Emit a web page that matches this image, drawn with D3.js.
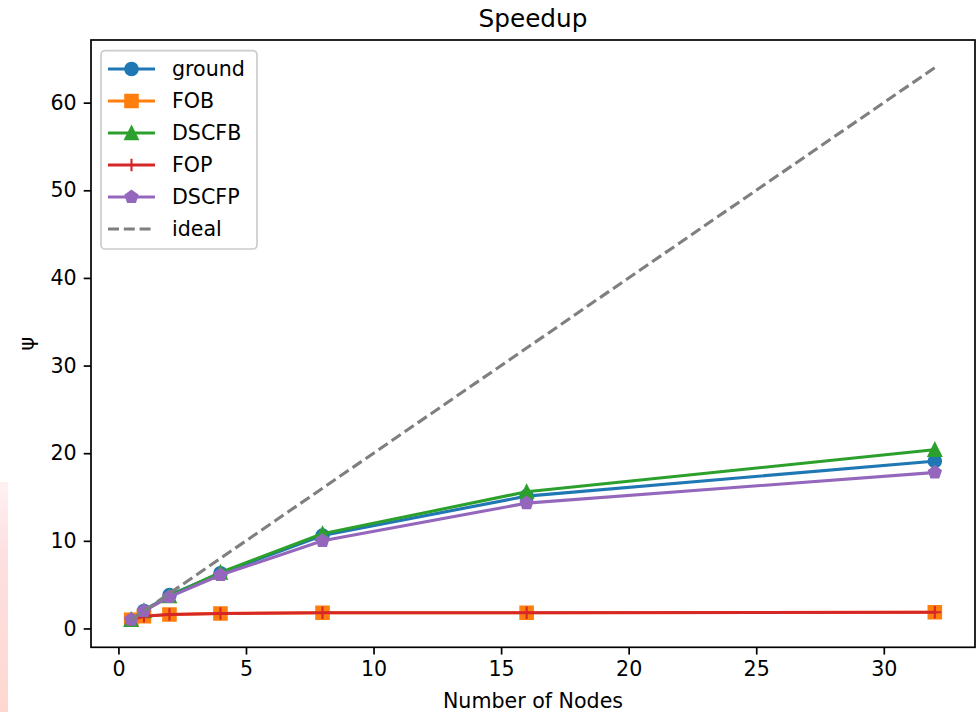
<!DOCTYPE html>
<html>
<head>
<meta charset="utf-8">
<script src="https://cdn.jsdelivr.net/npm/d3@7"></script>
<style>
  body { margin: 0; background: #fff; }
  text { font-family: "DejaVu Sans", sans-serif; fill: #000; }
</style>
</head>
<body>
<div id="chart"></div>
<script>
const nodes = [0.5, 1, 2, 4, 8, 16, 32];
const ground = [1.0, 2.0, 3.8, 6.3, 10.6, 15.1, 19.1];
const fob = [1.0, 1.4, 1.6, 1.7, 1.8, 1.8, 1.85];
const dscfb = [1.0, 2.0, 3.7, 6.4, 10.8, 15.6, 20.4];
const fop = [1.0, 1.4, 1.6, 1.7, 1.8, 1.8, 1.85];
const dscfp = [1.0, 2.0, 3.6, 6.1, 10.0, 14.3, 17.8];
const ideal = [1, 2, 4, 8, 16, 32, 64];
const xTicks = [0, 5, 10, 15, 20, 25, 30];
const yTicks = [0, 10, 20, 30, 40, 50, 60];

const series = [
  { name: 'ground', values: ground, color: '#1f77b4', marker: 'circle' },
  { name: 'FOB', values: fob, color: '#ff7f0e', marker: 'square' },
  { name: 'DSCFB', values: dscfb, color: '#2ca02c', marker: 'triangle' },
  { name: 'FOP', values: fop, color: '#d62728', marker: 'plus' },
  { name: 'DSCFP', values: dscfp, color: '#9467bd', marker: 'pentagon' },
  { name: 'ideal', values: ideal, color: '#7f7f7f', marker: null, dash: '11,4.8' }
];

const W = 979, H = 712;
const m = { left: 91, right: 975, top: 40, bottom: 647.3 };
const fs = 20.6;
const lw = 3.1;
const ms = 12.5;

const svg = d3.select('#chart').append('svg').attr('width', W).attr('height', H);

// faint pink strip at the left edge of the screenshot
const grad = svg.append('defs').append('linearGradient')
  .attr('id', 'pink').attr('x1', 0).attr('y1', 0).attr('x2', 0).attr('y2', 1);
grad.append('stop').attr('offset', 0).attr('stop-color', '#fff1f2');
grad.append('stop').attr('offset', 0.3).attr('stop-color', '#fde0e2');
grad.append('stop').attr('offset', 1).attr('stop-color', '#fdd8d0');
svg.append('rect').attr('x', 0).attr('y', 482).attr('width', 8).attr('height', H - 482)
  .attr('fill', 'url(#pink)');

const x = d3.scaleLinear().domain([-1.075, 33.575]).range([m.left, m.right]);
const y = d3.scaleLinear().domain([-2.15, 67.15]).range([m.bottom, m.top]);

const sym = {
  circle: d3.symbol().type(d3.symbolCircle).size(Math.PI * (ms / 2) ** 2),
  square: d3.symbol().type(d3.symbolSquare).size(ms * ms),
  triangle: null,
  pentagon: null
};

function markerPath(type, s) {
  const r = s / 2;
  if (type === 'circle') return sym.circle();
  if (type === 'square') return sym.square();
  if (type === 'triangle') return `M0,${-r}L${r},${r}L${-r},${r}Z`;
  if (type === 'pentagon') {
    const pts = d3.range(5).map(i => {
      const a = -Math.PI / 2 + i * 2 * Math.PI / 5;
      return [r * Math.cos(a), r * Math.sin(a)];
    });
    return 'M' + pts.map(p => p.join(',')).join('L') + 'Z';
  }
  if (type === 'plus') return `M${-r},0L${r},0M0,${-r}L0,${r}`;
  return '';
}

function drawMarker(g, type, color) {
  const p = g.append('path').attr('d', markerPath(type, ms));
  if (type === 'plus') {
    p.attr('fill', 'none').attr('stroke', color).attr('stroke-width', 2.1);
  } else {
    p.attr('fill', color).attr('stroke', color).attr('stroke-width', 2.1)
      .attr('stroke-linejoin', 'miter');
  }
}

const plot = svg.append('g');
const line = d3.line().x(d => x(d[0])).y(d => y(d[1]));

series.forEach(s => {
  const pts = nodes.map((n, i) => [n, s.values[i]]);
  plot.append('path').attr('d', line(pts))
    .attr('fill', 'none').attr('stroke', s.color).attr('stroke-width', lw)
    .attr('stroke-linecap', s.dash ? 'butt' : 'square')
    .attr('stroke-linejoin', 'round')
    .attr('stroke-dasharray', s.dash || null);
  if (s.marker) {
    pts.forEach(p => {
      const g = plot.append('g').attr('transform', `translate(${x(p[0])},${y(p[1])})`);
      drawMarker(g, s.marker, s.color);
    });
  }
});

// axes
const xAxis = svg.append('g').attr('transform', `translate(0,${m.bottom})`)
  .call(d3.axisBottom(x).tickValues(xTicks).tickSize(7.3).tickPadding(7).tickFormat(d3.format('d')));
const yAxis = svg.append('g').attr('transform', `translate(${m.left},0)`)
  .call(d3.axisLeft(y).tickValues(yTicks).tickSize(7.3).tickPadding(7).tickFormat(d3.format('d')));
[xAxis, yAxis].forEach(a => {
  a.select('.domain').remove();
  a.selectAll('line').attr('stroke', '#000').attr('stroke-width', 1.7);
  a.selectAll('text').style('font-size', fs + 'px').style('font-family', '"DejaVu Sans", sans-serif');
});

svg.append('rect').attr('x', m.left).attr('y', m.top)
  .attr('width', m.right - m.left).attr('height', m.bottom - m.top)
  .attr('fill', 'none').attr('stroke', '#000').attr('stroke-width', 1.7);

// titles
svg.append('text').attr('x', (m.left + m.right) / 2).attr('y', 27)
  .attr('text-anchor', 'middle').style('font-size', (fs * 1.2) + 'px').text('Speedup');
svg.append('text').attr('x', (m.left + m.right) / 2).attr('y', 708)
  .attr('text-anchor', 'middle').style('font-size', fs + 'px').text('Number of Nodes');
svg.append('text').attr('transform', `translate(34,${(m.top + m.bottom) / 2}) rotate(-90)`)
  .attr('text-anchor', 'middle').style('font-size', fs + 'px').text('ψ');

// legend
const lg = svg.append('g');
lg.append('rect').attr('x', 101).attr('y', 50.7).attr('width', 156).attr('height', 198.3)
  .attr('rx', 4).attr('fill', '#fff').attr('fill-opacity', 0.8)
  .attr('stroke', '#cccccc').attr('stroke-width', 1.7);
series.forEach((s, i) => {
  const cy = 69 + i * 32;
  lg.append('line').attr('x1', 108).attr('x2', 155).attr('y1', cy).attr('y2', cy)
    .attr('stroke', s.color).attr('stroke-width', lw)
    .attr('stroke-dasharray', s.dash || null);
  if (s.marker) {
    const g = lg.append('g').attr('transform', `translate(131.5,${cy})`);
    drawMarker(g, s.marker, s.color);
  }
  lg.append('text').attr('x', 172).attr('y', cy).attr('dy', '0.36em')
    .style('font-size', fs + 'px').text(s.name);
});
</script>
</body>
</html>
